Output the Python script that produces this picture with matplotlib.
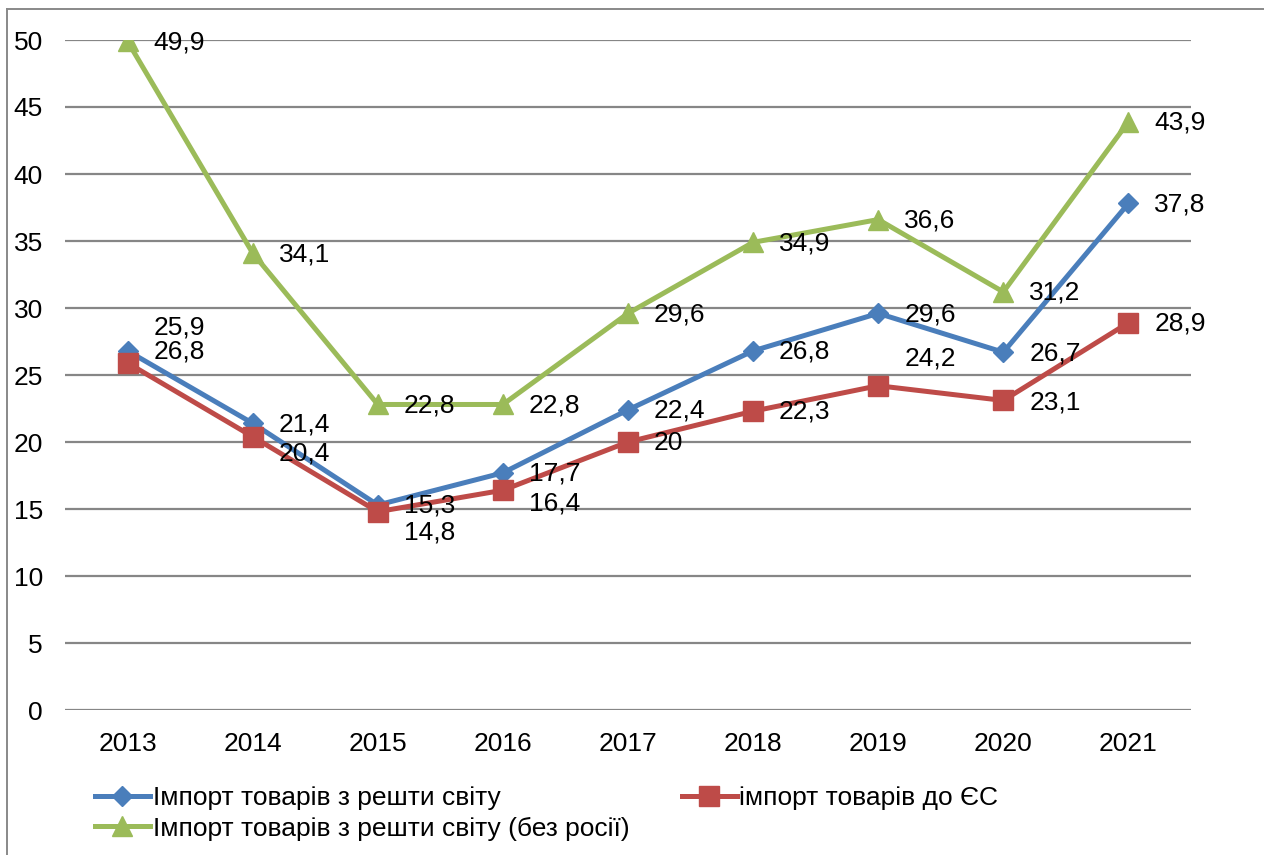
import matplotlib
matplotlib.use("Agg")
from matplotlib import pyplot as plt
from matplotlib.lines import Line2D

plt.rcParams['font.family'] = ['Liberation Sans', 'DejaVu Sans']

years = ['2013', '2014', '2015', '2016', '2017', '2018', '2019', '2020', '2021']
world = [26.8, 21.4, 15.3, 17.7, 22.4, 26.8, 29.6, 26.7, 37.8]
eu = [25.9, 20.4, 14.8, 16.4, 20, 22.3, 24.2, 23.1, 28.9]
no_russia = [49.9, 34.1, 22.8, 22.8, 29.6, 34.9, 36.6, 31.2, 43.9]

names = ['Імпорт товарів з решти світу',
         'імпорт товарів до ЄС',
         'Імпорт товарів з решти світу (без росії)']

# label offsets in pixels (dx, dy), most labels sit right of the point
right = (26, -1)
world_off = [right] * 9
eu_off = [(26, 35), (26, -17), (26, -21), (26, -13), (26, -1), (26, 0), (26, 27), (26, -2), (26, -1)]
green_off = [right] * 9

fig = plt.figure(figsize=(12.64, 8.55), dpi=100)
W, H = 1264, 855
ax = fig.add_axes([65 / W, (H - 710) / H, (1191 - 65) / W, (710 - 40) / H])

x = list(range(len(years)))
l1, = ax.plot(x, world, color='#4A7EBB', lw=3.6, marker='D', ms=10, zorder=3)
l2, = ax.plot(x, eu, color='#BE4B48', lw=3.6, marker='s', ms=14, zorder=4)
l3, = ax.plot(x, no_russia, color='#9BBB59', lw=3.6, marker='^', ms=15, zorder=5)

def fmt(v):
    return ('%g' % v).replace('.', ',')

for vals, offs in [(world, world_off), (eu, eu_off), (no_russia, green_off)]:
    for i, v in enumerate(vals):
        ax.annotate(fmt(v), (i, v), xytext=offs[i], textcoords='offset pixels',
                    ha='left', va='center', fontsize=19, zorder=6)

ax.set_xlim(-0.5, 8.5)
ax.set_ylim(0, 50)
ax.set_yticks(range(0, 51, 5))
ax.set_xticks(x)
ax.set_xticklabels(years)
ax.tick_params(length=0, labelsize=19)
ax.tick_params(axis='y', pad=16)
ax.tick_params(axis='x', pad=16)
ax.grid(axis='y', color='#868686', lw=1.6)
ax.set_axisbelow(True)
for s in ax.spines.values():
    s.set_visible(False)

fig.legend([l1, l3, l2], [names[0], names[2], names[1]], ncol=2, frameon=False,
           loc='upper left', bbox_to_anchor=(95 / W, (H - 786) / H),
           borderaxespad=0, borderpad=0, fontsize=19, handlelength=2.08,
           handletextpad=0.1, labelspacing=0.25, columnspacing=2.0)

# outer chart frame
fig.add_artist(Line2D([7 / W, 1.0], [(H - 9) / H, (H - 9) / H], color='#898989', lw=1.4,
                      transform=fig.transFigure))
fig.add_artist(Line2D([7 / W, 7 / W], [0, (H - 9) / H], color='#898989', lw=1.4,
                      transform=fig.transFigure))

fig.savefig('out.png', dpi=100)
